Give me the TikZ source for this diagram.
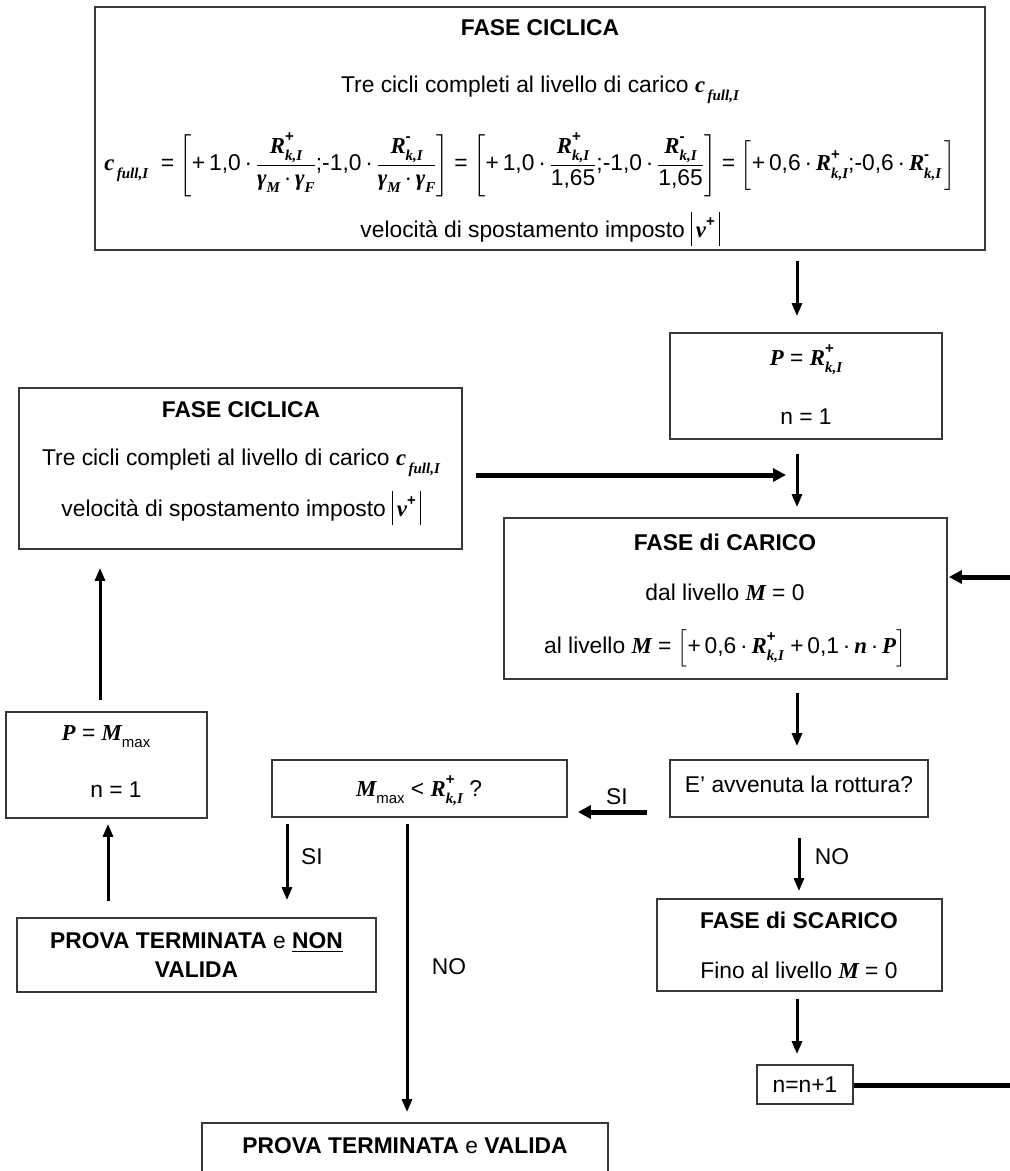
\documentclass[tikz,border=0pt]{standalone}
\usepackage{amsmath}
\usepackage{fontspec}
\setmainfont{Liberation Sans}
\newfontfamily\tms{Liberation Serif}
\usetikzlibrary{arrows.meta}
\definecolor{boxgray}{HTML}{383838}
\newcommand{\fs}{\fontsize{22.8}{27}\selectfont}
\newcommand{\sm}{\fontsize{15}{15}\selectfont}
\newcommand{\bi}[1]{{\tms\bfseries\itshape #1}}
\newcommand{\Rkp}[1]{\bi{R}\rlap{\raisebox{0.5em}{\sm\bfseries #1}}\raisebox{-0.32em}{\sm\bi{k,I}}}
\newcommand{\cfull}{\bi{c}\raisebox{-0.35em}{\sm\bi{\,full,I}}}
\newcommand{\gM}{\bi{γ}\raisebox{-0.3em}{\sm\bi{M}}}
\newcommand{\gF}{\bi{γ}\raisebox{-0.3em}{\sm\bi{F}}}
\newcommand{\Mmax}{\bi{M}\raisebox{-0.3em}{\sm max}}
\newcommand{\eq}{\mathrel{\hbox{=}}}
\newcommand{\vbar}{\rule[-0.35em]{0.9pt}{1.45em}}
\newcommand{\vabs}{\vbar\,\bi{v}\raisebox{0.5em}{\sm\bfseries +}\,\vbar}
\tikzset{
  box/.style={draw=boxgray, line width=1.8pt, inner sep=0pt},
  txt/.style={inner sep=0pt, font=\fs, text=black},
  arr/.style={line width=3pt, -{Triangle[length=13pt,width=10pt]}},
  tarr/.style={line width=5pt, -{Triangle[length=13pt,width=13pt]}},
  tline/.style={line width=5pt},
}
\begin{document}
\begin{tikzpicture}[x=1pt,y=-1pt]
\clip (0,0) rectangle (1010,1171);
\useasboundingbox (0,0) rectangle (1010,1171);
% boxes
\node[box, minimum width=890pt, minimum height=243pt] (top) at (540,128.5) {};
\node[box, minimum width=272pt, minimum height=106pt] (pbox) at (806,386) {};
\node[box, minimum width=443pt, minimum height=161pt] (cyc) at (240.5,468.5) {};
\node[box, minimum width=443pt, minimum height=161pt] (car) at (725.5,598.5) {};
\node[box, minimum width=258pt, minimum height=57pt] (rot) at (799,788.5) {};
\node[box, minimum width=201pt, minimum height=106pt] (pm) at (106.5,765) {};
\node[box, minimum width=295pt, minimum height=57pt] (mmax) at (419.5,788.5) {};
\node[box, minimum width=359pt, minimum height=74pt] (nonv) at (196.5,955) {};
\node[box, minimum width=285pt, minimum height=92pt] (scar) at (799.5,945) {};
\node[box, minimum width=96pt, minimum height=39pt] (nn) at (805,1084.5) {};
\node[box, minimum width=406pt, minimum height=80pt] (val) at (405,1163) {};
% texts top box
\node[txt] (t1) at (540,28) {\bfseries FASE CICLICA};
\node[txt] (t2) at (540,90) {Tre cicli completi al livello di carico \cfull};
\node[txt] (t3) at (530,165) {\cfull\ \ $\eq\left[\hbox{+\,1,0\,·\,}\dfrac{\hbox{\Rkp{+}}}{\hbox{\gM\,·\,\gF}}\hbox{;-1,0\,·\,}\dfrac{\hbox{\Rkp{-}}}{\hbox{\gM\,·\,\gF}}\right]\eq\left[\hbox{+\,1,0\,·\,}\dfrac{\hbox{\Rkp{+}}}{\hbox{1,65}}\hbox{;-1,0\,·\,}\dfrac{\hbox{\Rkp{-}}}{\hbox{1,65}}\right]\eq\biggl[\hbox{+\,0,6\,·\,\Rkp{+};-0,6\,·\,\Rkp{-}}\,\biggr]$};
\node[txt] (t4) at (540,229) {velocità di spostamento imposto \vabs};
% P box
\node[txt] (p1) at (806,360) {\bi{P} = \Rkp{+}};
\node[txt] (p2) at (806,417) {n = 1};
% left cyclic box
\node[txt] (c1) at (241,410) {\bfseries FASE CICLICA};
\node[txt] (c2) at (241,463) {Tre cicli completi al livello di carico \cfull};
\node[txt] (c3) at (241,508) {velocità di spostamento imposto \vabs};
% carico
\node[txt] (k1) at (725,542) {\bfseries FASE di CARICO};
\node[txt] (k2) at (725,592) {dal livello \bi{M} = 0};
\node[txt] (k3) at (725,648) {al livello \bi{M} = $\Bigl[\hbox{+\,0,6\,·\,\Rkp{+}\ +\,0,1\,·\,\bi{n}\,·\,\bi{P}}\Bigr]$};
% rottura
\node[txt] (r1) at (799,784) {E’ avvenuta la rottura?};
% P = Mmax
\node[txt] (m1) at (106,737) {\bi{P} = \Mmax};
\node[txt] (m2) at (116,790) {n = 1};
% Mmax < R
\node[txt] (q1) at (419,791) {\Mmax\ < \Rkp{+} ?};
% non valida
\node[txt, align=center] (nv) at (196.5,955) {\bfseries PROVA TERMINATA \mdseries e \bfseries\underline{NON}\\[2pt]\bfseries VALIDA};
% scarico
\node[txt] (s1) at (799,920) {\bfseries FASE di SCARICO};
\node[txt] (s2) at (799,970) {Fino al livello \bi{M} = 0};
% n=n+1
\node[txt] (n1) at (805,1085) {n=n+1};
% valida
\node[txt] (v1) at (405,1146) {\bfseries PROVA TERMINATA \mdseries e \bfseries VALIDA};
% labels
\node[txt] (lsi1) at (617,797) {SI};
\node[txt] (lno1) at (832,857) {NO};
\node[txt] (lsi2) at (312,857) {SI};
\node[txt] (lno2) at (449,967) {NO};
% coordinates
\coordinate (colx) at (797,0);
\coordinate (hin) at (786,475);
\coordinate (rin) at (1010,577);
\coordinate (rout) at (1010,1085);
% arrows right column
\draw[arr] ([yshift=-10pt]top.south -| colx) -- ([yshift=16pt]pbox.north -| colx);
\draw[arr] ([yshift=-14pt]pbox.south -| colx) -- ([yshift=10pt]car.north -| colx);
\draw[arr] ([yshift=-13pt]car.south -| colx) -- ([yshift=13pt]rot.north -| colx);
\draw[arr] ([yshift=-20pt,xshift=2pt]rot.south -| colx) -- ([yshift=7pt,xshift=2pt]scar.north -| colx);
\draw[arr] ([yshift=-7pt]scar.south -| colx) -- ([yshift=10pt]nn.north -| colx);
% thick horizontals
\draw[tarr] ([xshift=13pt]cyc.east |- hin) -- (hin);
\draw[tarr] (rin) -- ([xshift=1pt]car.east |- rin);
\draw[tline] (nn.east |- rout) -- (rout);
\draw[tarr] ([xshift=-22pt]rot.west |- 0,812) -- ([xshift=10pt]mmax.east |- 0,812);
% left column
\draw[arr] ([yshift=11pt]pm.north -| 100,0) -- ([yshift=-18pt]cyc.south -| 100,0);
\draw[arr] ([yshift=16pt]nonv.north -| 108,0) -- ([yshift=-5pt]pm.south -| 108,0);
\draw[arr] ([yshift=-6pt]mmax.south -| 287,0) -- ([yshift=17pt]nonv.north -| 287,0);
\draw[arr] ([yshift=-6pt]mmax.south -| 407,0) -- ([yshift=10pt]val.north -| 407,0);
\end{tikzpicture}
\end{document}
